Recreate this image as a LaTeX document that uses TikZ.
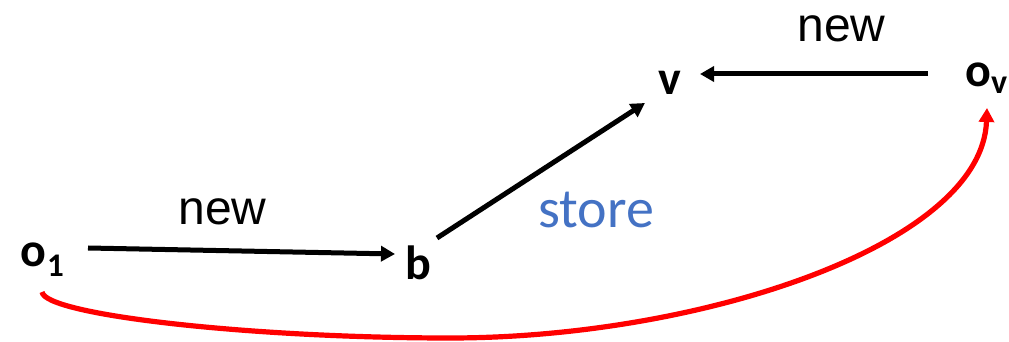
\documentclass[tikz,border=0pt]{standalone}
\usepackage{fontspec}
\setmainfont{Carlito}
\newfontfamily\arialfont{Liberation Sans}
\usetikzlibrary{arrows.meta}
\definecolor{storeblue}{RGB}{68,114,196}
\definecolor{curvered}{RGB}{255,0,0}
\tikzset{
  varlabel/.style={inner sep=0pt, anchor=base west, font=\fontsize{24}{24}\selectfont\bfseries},
  edgelabel/.style={inner sep=0pt, anchor=base west, font=\arialfont\fontsize{24}{24}\selectfont},
  storelabel/.style={inner sep=0pt, anchor=base west, text=storeblue, font=\fontsize{28}{28}\selectfont},
  arr/.style={line width=2.5pt, -{Triangle[length=7pt,width=7.5pt]}},
  redarr/.style={line width=2.6pt, draw=curvered, -{Triangle[length=7pt,width=7.5pt]}}
}
\begin{document}
\begin{tikzpicture}[x=0.5pt,y=-0.5pt]
\useasboundingbox (0,0) rectangle (1009,342);
\node[varlabel] (o1) at (20,267) {o\kern0.5pt\raisebox{-5pt}{\fontsize{16.5}{16.5}\selectfont\bfseries 1}};
\node[varlabel] (b) at (405,280) {b};
\node[varlabel] (v) at (658,95) {v};
\node[varlabel] (ov) at (965,87) {o\raisebox{-3.5pt}{\fontsize{17}{17}\selectfont\bfseries v}};
\node[edgelabel] (new1) at (178,225) {new};
\node[edgelabel] (new2) at (797,42) {new};
\node[storelabel] (store) at (538,228) {store};
\draw[arr] ([xshift=34pt,yshift=9.5pt]o1.base west) -- ([xshift=-5pt,yshift=13pt]b.base west);
\draw[arr] ([xshift=16pt,yshift=21pt]b.base west) -- ([xshift=-6.5pt,yshift=-4pt]v.base west);
\draw[arr] ([xshift=-18.5pt,yshift=6.5pt]ov.base west) -- ([xshift=21pt,yshift=10.5pt]v.base west);
\draw[redarr] ([xshift=11pt,yshift=-12.5pt]o1.base west) .. controls +(3,23) and (250,338) .. (450,338) .. controls (700,338) and (982,245) .. ([xshift=11pt,yshift=-10.5pt]ov.base west);
\end{tikzpicture}
\end{document}
